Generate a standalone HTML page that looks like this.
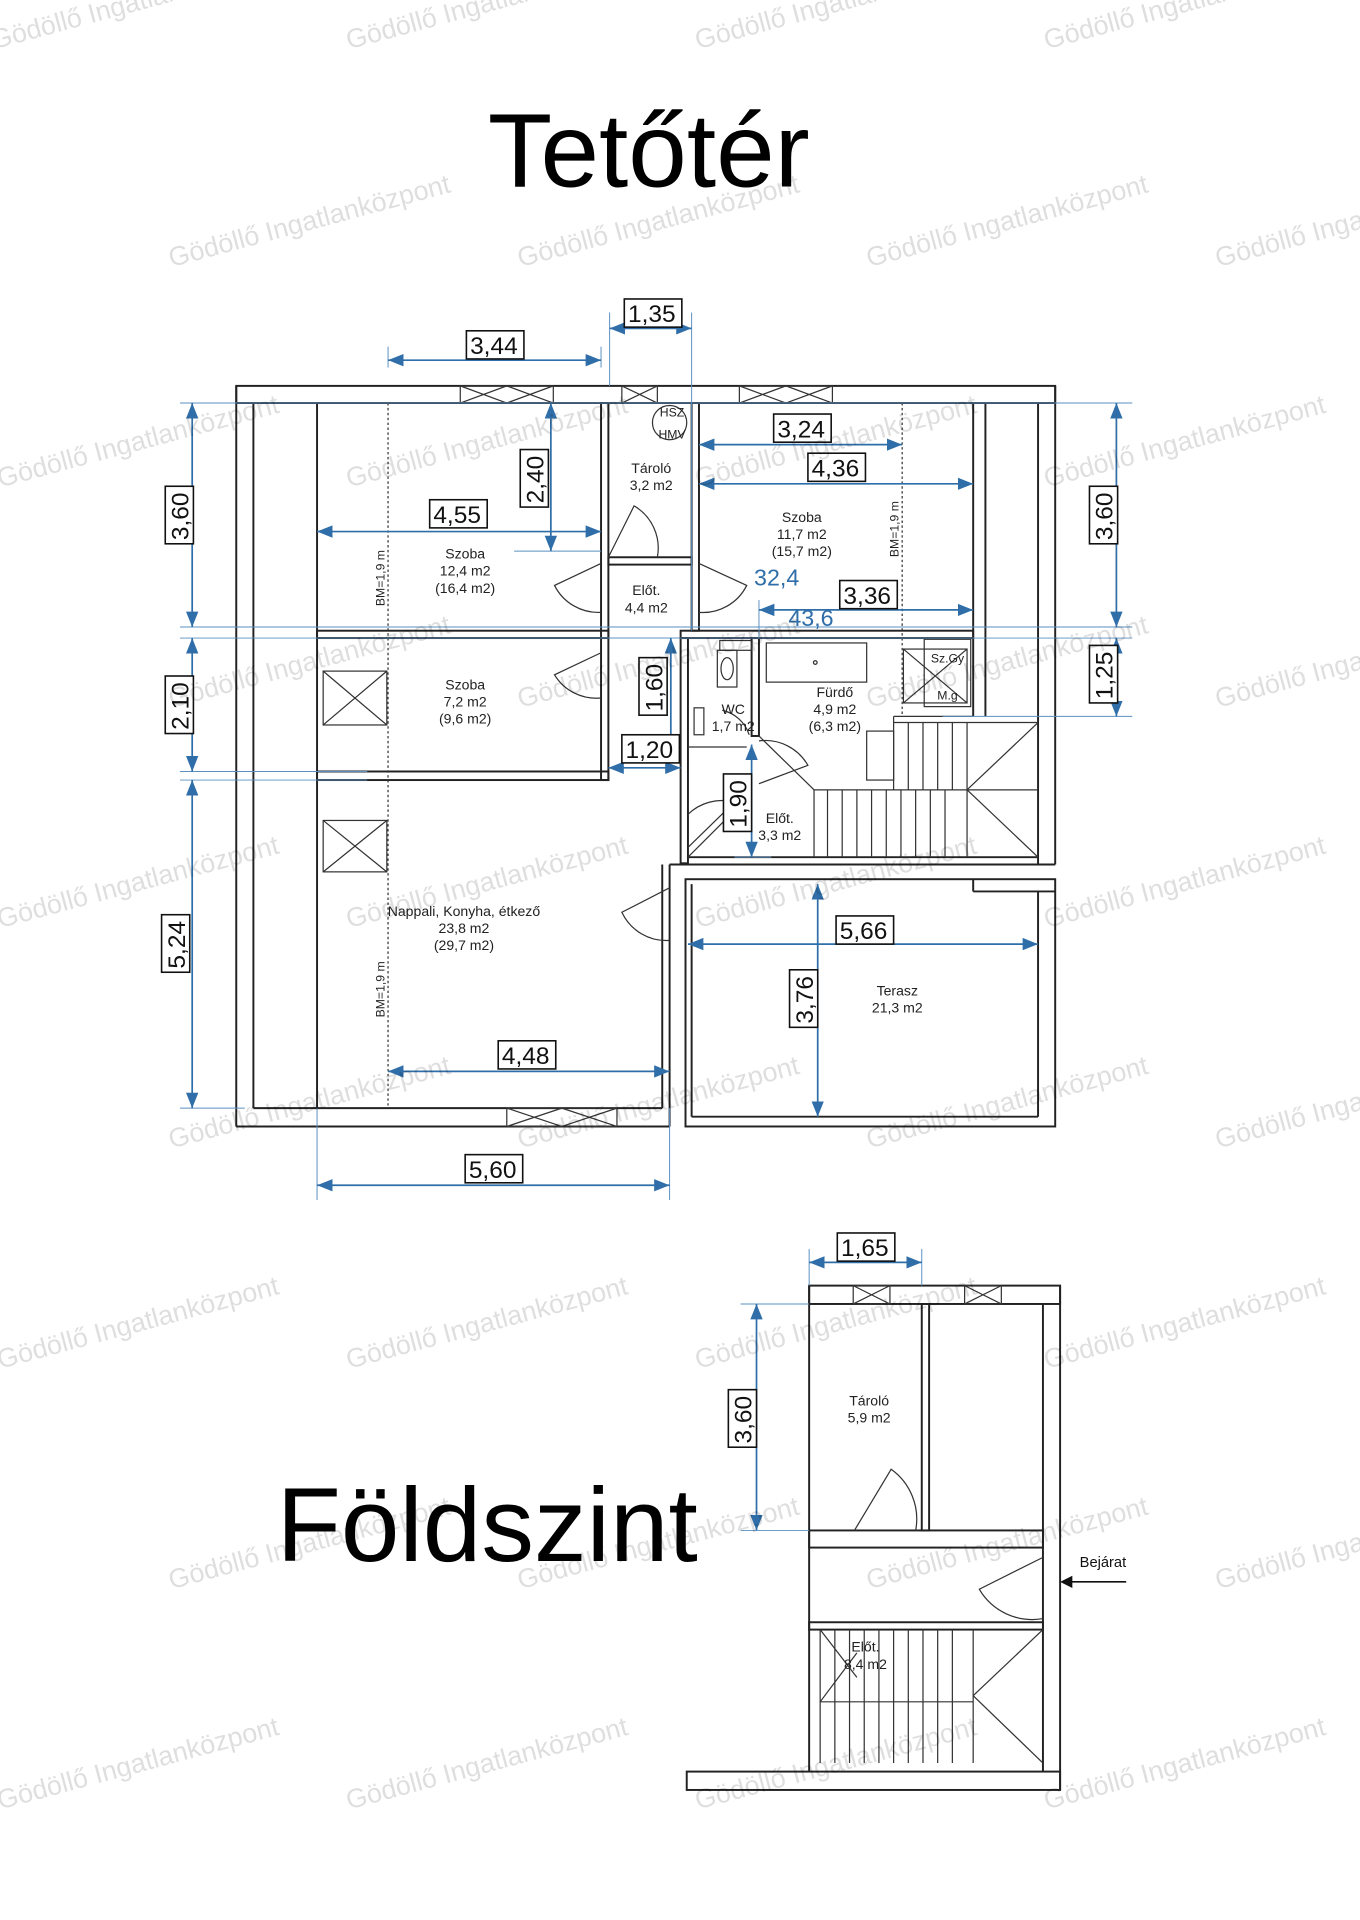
<!DOCTYPE html>
<html><head><meta charset="utf-8"><style>
html,body{margin:0;padding:0;background:#fff}
svg{display:block}
.w{fill:none;stroke:#222;stroke-width:1.6}
.t{fill:none;stroke:#333;stroke-width:1}
.d{stroke:#2f6ea8;stroke-width:1.4;fill:none}
.e{stroke:#5a8fc0;stroke-width:0.8;fill:none}
.lb{fill:#fff;stroke:#111;stroke-width:1.3}
.lt{font-family:"Liberation Sans",sans-serif;font-size:20px;fill:#111}
.rm{font-family:"Liberation Sans",sans-serif;font-size:11.5px;fill:#222;text-anchor:middle}
.wm{font-family:"Liberation Sans",sans-serif;font-size:22px;fill:#000;fill-opacity:0.13}
</style></head><body>
<svg width="1360" height="1920" viewBox="0 0 1111 1568" xmlns="http://www.w3.org/2000/svg">
<defs>
<marker id="a" viewBox="0 0 10 10" refX="10" refY="5" markerWidth="9" markerHeight="9" orient="auto-start-reverse"><path d="M0,1 L10,5 L0,9 z" fill="#2f6ea8"/></marker>
</defs>

<!-- titles -->
<text x="530" y="152" text-anchor="middle" font-family="Liberation Sans,sans-serif" font-size="86" fill="#000">Tetőtér</text>
<text x="398" y="1275" text-anchor="middle" font-family="Liberation Sans,sans-serif" font-size="86" fill="#000">Földszint</text>

<!-- UPPER PLAN walls -->
<g class="w">
<rect x="193" y="315" width="669" height="14"/>
<line x1="193" y1="315" x2="193" y2="920"/>
<line x1="207" y1="329" x2="207" y2="905"/>
<line x1="259" y1="329" x2="259" y2="905"/>
<line x1="193" y1="920" x2="547" y2="920"/>
<line x1="207" y1="905" x2="541" y2="905"/>
<line x1="862" y1="315" x2="862" y2="706"/>
<line x1="848" y1="329" x2="848" y2="706"/>
<line x1="795" y1="329" x2="795" y2="585"/>
<line x1="805" y1="329" x2="805" y2="585"/>
<!-- room divisions -->
<rect x="259" y="515" width="238" height="6"/>
<rect x="259" y="630" width="238" height="7"/>
<rect x="491" y="329" width="6" height="308"/>
<rect x="565" y="329" width="6" height="186"/>
<rect x="497" y="455" width="68" height="6"/>
<rect x="556" y="515" width="239" height="6"/>
<rect x="556" y="521" width="6" height="184"/>
<rect x="614" y="521" width="6" height="80"/>
<line x1="562" y1="700" x2="848" y2="700"/>
<line x1="547" y1="706" x2="862" y2="706"/>
<line x1="541" y1="706" x2="541" y2="905"/>
<line x1="547" y1="706" x2="547" y2="920"/>
<!-- terrace -->
<rect x="560" y="718" width="302" height="202"/>
<line x1="565" y1="912" x2="848" y2="912"/>
<line x1="565" y1="722" x2="565" y2="912"/>
<line x1="848" y1="728" x2="848" y2="912"/>
<line x1="795" y1="718" x2="795" y2="728"/><line x1="795" y1="728" x2="862" y2="728"/>
</g>
<!-- windows -->
<g class="t">
<rect x="376" y="315" width="76" height="14"/><path d="M376,315 L414,329 M414,315 L376,329 M414,315 L452,329 M452,315 L414,329"/>
<rect x="604" y="315" width="76" height="14"/><path d="M604,315 L642,329 M642,315 L604,329 M642,315 L680,329 M680,315 L642,329"/>
<rect x="508" y="315" width="29" height="14"/><path d="M508,315 L537,329 M537,315 L508,329"/>
<rect x="414" y="905" width="90" height="15"/><path d="M414,905 L459,920 M459,905 L414,920 M459,905 L504,920 M504,905 L459,920"/>
<!-- skylight boxes -->
<rect x="264" y="548" width="52" height="44"/><path d="M264,548 L316,592 M316,548 L264,592"/>
<rect x="264" y="670" width="52" height="42"/><path d="M264,670 L316,712 M316,670 L264,712"/>
<rect x="738" y="530" width="52" height="44"/><path d="M738,530 L790,574 M790,530 L738,574"/>
<rect x="755" y="522" width="38" height="55"/>
<!-- HSZ -->
<circle cx="547" cy="345" r="14"/>
<!-- bath -->
<rect x="626" y="525" width="82" height="32"/><circle cx="666" cy="541" r="1.5"/>
<rect x="588" y="523" width="26" height="8"/><rect x="586" y="531" width="16" height="30"/><ellipse cx="594" cy="546" rx="5" ry="9"/>
<rect x="567" y="578" width="8" height="22"/>
<rect x="708" y="597" width="22" height="40"/>
<line x1="730" y1="585" x2="795" y2="585"/><line x1="730" y1="585" x2="730" y2="645"/>
<line x1="620" y1="601" x2="665" y2="645"/>
<!-- stairs upper -->
<line x1="665" y1="645" x2="665" y2="700"/><line x1="790" y1="590" x2="790" y2="700"/>
<line x1="665" y1="645" x2="848" y2="645"/>
<path d="M676,645V700 M688,645V700 M700,645V700 M712,645V700 M724,645V700 M736,645V700 M748,645V700 M760,645V700 M772,645V700"/>
<path d="M742,590V645 M754,590V645 M766,590V645 M778,590V645 M730,590H848"/>
<path d="M790,645 L848,590 M790,645 L848,700"/>
<line x1="562" y1="610" x2="610" y2="610"/>
<line x1="562" y1="700" x2="610" y2="652"/>
<!-- doors -->
<path d="M497,455 L518,413 A40,40 0 0 1 537,455"/>
<path d="M491,460 L453,478 A40,40 0 0 0 491,500"/>
<path d="M491,533 L453,551 A40,40 0 0 0 491,570"/>
<path d="M571,460 L610,478 A40,40 0 0 1 571,500"/>
<path d="M547,725 L508,745 A40,40 0 0 0 547,768"/>
<path d="M562,665 A40,40 0 0 1 600,655 L562,692"/>
<path d="M620,605 A40,40 0 0 1 660,625 L620,640"/>
<path d="M590,580 A30,30 0 0 1 612,600"/>
<line x1="317" y1="329" x2="317" y2="905" stroke-dasharray="2,2"/>
<line x1="737" y1="329" x2="737" y2="585" stroke-dasharray="2,2"/>
</g>

<!-- LOWER PLAN -->
<g class="w">
<rect x="661" y="1050" width="205" height="15"/>
<line x1="661" y1="1050" x2="661" y2="1447"/>
<line x1="866" y1="1050" x2="866" y2="1462"/>
<line x1="852" y1="1065" x2="852" y2="1447"/>
<rect x="753" y="1065" width="6" height="185"/>
<rect x="661" y="1250" width="191" height="14"/>
<rect x="661" y="1325" width="191" height="6"/>
<rect x="561" y="1447" width="305" height="15"/>
</g>
<g class="t">
<rect x="697" y="1050" width="30" height="15"/><path d="M697,1050 L727,1065 M727,1050 L697,1065"/>
<rect x="788" y="1050" width="30" height="15"/><path d="M788,1050 L818,1065 M818,1050 L788,1065"/>
<path d="M698,1250 L728,1200 A50,50 0 0 1 748,1250"/>
<path d="M852,1272 L800,1298 A50,50 0 0 0 852,1322"/>
<path d="M670,1331V1440 M682,1331V1440 M694,1331V1390 M706,1331V1390 M718,1331V1390 M730,1331V1390 M742,1331V1390 M754,1331V1390 M766,1331V1390 M778,1331V1390 M795,1331V1440 M670,1390H795"/>
<path d="M694,1390V1440 M706,1390V1440 M718,1390V1440 M730,1390V1440 M742,1390V1440 M754,1390V1440 M766,1390V1440 M778,1390V1440"/>
<path d="M795,1385 L852,1331 M795,1385 L852,1440"/>
<path d="M670,1331 L700,1370 M670,1390 L700,1350"/>
</g>
<line x1="920" y1="1292" x2="868" y2="1292" stroke="#111" stroke-width="1.3"/>
<path d="M866,1292 L876,1287 L876,1297 z" fill="#111"/>
<text x="882" y="1280" font-family="Liberation Sans,sans-serif" font-size="12" fill="#111">Bejárat</text>

<!-- room labels -->
<g class="rm">
<text x="532" y="386">Tároló</text><text x="532" y="400">3,2 m2</text>
<text x="380" y="456">Szoba</text><text x="380" y="470">12,4 m2</text><text x="380" y="484">(16,4 m2)</text>
<text x="528" y="486">Előt.</text><text x="528" y="500">4,4 m2</text>
<text x="655" y="426">Szoba</text><text x="655" y="440">11,7 m2</text><text x="655" y="454">(15,7 m2)</text>
<text x="380" y="563">Szoba</text><text x="380" y="577">7,2 m2</text><text x="380" y="591">(9,6 m2)</text>
<text x="682" y="569">Fürdő</text><text x="682" y="583">4,9 m2</text><text x="682" y="597">(6,3 m2)</text>
<text x="599" y="583">WC</text><text x="599" y="597">1,7 m2</text>
<text x="637" y="672">Előt.</text><text x="637" y="686">3,3 m2</text>
<text x="379" y="748">Nappali, Konyha, étkező</text><text x="379" y="762">23,8 m2</text><text x="379" y="776">(29,7 m2)</text>
<text x="733" y="813">Terasz</text><text x="733" y="827">21,3 m2</text>
<text x="710" y="1148">Tároló</text><text x="710" y="1162">5,9 m2</text>
<text x="707" y="1349">Előt.</text><text x="707" y="1363">8,4 m2</text>
<text x="549" y="340" font-size="10">HSZ</text><text x="549" y="358" font-size="10">HMV</text>
<text x="774" y="541" font-size="10">Sz.Gy</text><text x="774" y="571" font-size="10">M.g</text>
<text transform="translate(314,472) rotate(-90)" font-size="10">BM=1,9 m</text>
<text transform="translate(314,808) rotate(-90)" font-size="10">BM=1,9 m</text>
<text transform="translate(734,432) rotate(-90)" font-size="10">BM=1,9 m</text>
</g>

<!-- extension lines -->
<g class="e">
<line x1="147" y1="329" x2="925" y2="329"/>
<line x1="147" y1="512" x2="925" y2="512"/>
<line x1="147" y1="521" x2="925" y2="521"/>
<line x1="147" y1="630" x2="300" y2="630"/>
<line x1="147" y1="637" x2="300" y2="637"/>
<line x1="147" y1="905" x2="200" y2="905"/>
<line x1="770" y1="585" x2="925" y2="585"/>
<line x1="317" y1="283" x2="317" y2="300"/>
<line x1="491" y1="283" x2="491" y2="300"/>
<line x1="498" y1="255" x2="498" y2="315"/>
<line x1="565" y1="255" x2="565" y2="515"/>
<line x1="259" y1="905" x2="259" y2="980"/>
<line x1="547" y1="905" x2="547" y2="980"/>
<line x1="661" y1="1020" x2="661" y2="1050"/>
<line x1="753" y1="1020" x2="753" y2="1050"/>
<line x1="605" y1="1065" x2="661" y2="1065"/>
<line x1="605" y1="1250" x2="661" y2="1250"/>
<line x1="420" y1="450" x2="491" y2="450"/>
<line x1="490" y1="521" x2="556" y2="521"/>
<line x1="600" y1="700" x2="630" y2="700"/>
<line x1="620" y1="490" x2="620" y2="521"/>
</g>
<!-- dimension lines -->
<g class="d">
<line x1="317" y1="294" x2="491" y2="294" marker-start="url(#a)" marker-end="url(#a)"/>
<line x1="498" y1="268" x2="565" y2="268" marker-start="url(#a)" marker-end="url(#a)"/>
<line x1="157" y1="329" x2="157" y2="512" marker-start="url(#a)" marker-end="url(#a)"/>
<line x1="450" y1="329" x2="450" y2="450" marker-start="url(#a)" marker-end="url(#a)"/>
<line x1="259" y1="434" x2="491" y2="434" marker-start="url(#a)" marker-end="url(#a)"/>
<line x1="571" y1="363" x2="737" y2="363" marker-start="url(#a)" marker-end="url(#a)"/>
<line x1="571" y1="395" x2="795" y2="395" marker-start="url(#a)" marker-end="url(#a)"/>
<line x1="912" y1="329" x2="912" y2="512" marker-start="url(#a)" marker-end="url(#a)"/>
<line x1="620" y1="498" x2="795" y2="498" marker-start="url(#a)" marker-end="url(#a)"/>
<line x1="912" y1="521" x2="912" y2="585" marker-start="url(#a)" marker-end="url(#a)"/>
<line x1="157" y1="521" x2="157" y2="630" marker-start="url(#a)" marker-end="url(#a)"/>
<line x1="548" y1="521" x2="548" y2="622" marker-start="url(#a)" marker-end="url(#a)"/>
<line x1="497" y1="627" x2="556" y2="627" marker-start="url(#a)" marker-end="url(#a)"/>
<line x1="614" y1="608" x2="614" y2="700" marker-start="url(#a)" marker-end="url(#a)"/>
<line x1="157" y1="637" x2="157" y2="905" marker-start="url(#a)" marker-end="url(#a)"/>
<line x1="562" y1="771" x2="848" y2="771" marker-start="url(#a)" marker-end="url(#a)"/>
<line x1="668" y1="722" x2="668" y2="912" marker-start="url(#a)" marker-end="url(#a)"/>
<line x1="317" y1="875" x2="547" y2="875" marker-start="url(#a)" marker-end="url(#a)"/>
<line x1="259" y1="968" x2="547" y2="968" marker-start="url(#a)" marker-end="url(#a)"/>
<line x1="661" y1="1031" x2="753" y2="1031" marker-start="url(#a)" marker-end="url(#a)"/>
<line x1="618" y1="1065" x2="618" y2="1250" marker-start="url(#a)" marker-end="url(#a)"/>
</g>
<text x="616" y="478" font-family="Liberation Sans,sans-serif" font-size="19" fill="#2f6ea8">32,4</text>
<text x="644" y="511" font-family="Liberation Sans,sans-serif" font-size="19" fill="#2f6ea8">43,6</text>

<!-- dimension labels -->
<g>
<rect class="lb" x="381" y="270" width="47" height="23"/><text class="lt" x="384" y="289">3,44</text>
<rect class="lb" x="510" y="244" width="47" height="23"/><text class="lt" x="513" y="263">1,35</text>
<rect class="lb" x="351" y="408" width="47" height="23"/><text class="lt" x="354" y="427">4,55</text>
<rect class="lb" x="632" y="338" width="47" height="23"/><text class="lt" x="635" y="357">3,24</text>
<rect class="lb" x="660" y="370" width="47" height="23"/><text class="lt" x="663" y="389">4,36</text>
<rect class="lb" x="686" y="474" width="47" height="23"/><text class="lt" x="689" y="493">3,36</text>
<rect class="lb" x="508" y="600" width="47" height="23"/><text class="lt" x="511" y="619">1,20</text>
<rect class="lb" x="683" y="748" width="47" height="23"/><text class="lt" x="686" y="767">5,66</text>
<rect class="lb" x="407" y="850" width="47" height="23"/><text class="lt" x="410" y="869">4,48</text>
<rect class="lb" x="380" y="943" width="47" height="23"/><text class="lt" x="383" y="962">5,60</text>
<rect class="lb" x="684" y="1007" width="47" height="23"/><text class="lt" x="687" y="1026">1,65</text>
<!-- vertical -->
<g transform="translate(146,420) rotate(-90)"><rect class="lb" x="-24" y="-11" width="47" height="23"/><text class="lt" x="-21" y="8">3,60</text></g>
<g transform="translate(436,390) rotate(-90)"><rect class="lb" x="-24" y="-11" width="47" height="23"/><text class="lt" x="-21" y="8">2,40</text></g>
<g transform="translate(901,420) rotate(-90)"><rect class="lb" x="-24" y="-11" width="47" height="23"/><text class="lt" x="-21" y="8">3,60</text></g>
<g transform="translate(901,550) rotate(-90)"><rect class="lb" x="-24" y="-11" width="47" height="23"/><text class="lt" x="-21" y="8">1,25</text></g>
<g transform="translate(146,575) rotate(-90)"><rect class="lb" x="-24" y="-11" width="47" height="23"/><text class="lt" x="-21" y="8">2,10</text></g>
<g transform="translate(533,560) rotate(-90)"><rect class="lb" x="-24" y="-11" width="47" height="23"/><text class="lt" x="-21" y="8">1,60</text></g>
<g transform="translate(602,655) rotate(-90)"><rect class="lb" x="-24" y="-11" width="47" height="23"/><text class="lt" x="-21" y="8">1,90</text></g>
<g transform="translate(143,770) rotate(-90)"><rect class="lb" x="-24" y="-11" width="47" height="23"/><text class="lt" x="-21" y="8">5,24</text></g>
<g transform="translate(656,815) rotate(-90)"><rect class="lb" x="-24" y="-11" width="47" height="23"/><text class="lt" x="-21" y="8">3,76</text></g>
<g transform="translate(606,1158) rotate(-90)"><rect class="lb" x="-24" y="-11" width="47" height="23"/><text class="lt" x="-21" y="8">3,60</text></g>
</g>

<!-- watermarks -->
<g class="wm">
<text transform="translate(-5,40) rotate(-15)">Gödöllő Ingatlanközpont</text>
<text transform="translate(285,40) rotate(-15)">Gödöllő Ingatlanközpont</text>
<text transform="translate(570,40) rotate(-15)">Gödöllő Ingatlanközpont</text>
<text transform="translate(855,40) rotate(-15)">Gödöllő Ingatlanközpont</text>
<text transform="translate(140,218) rotate(-15)">Gödöllő Ingatlanközpont</text>
<text transform="translate(425,218) rotate(-15)">Gödöllő Ingatlanközpont</text>
<text transform="translate(710,218) rotate(-15)">Gödöllő Ingatlanközpont</text>
<text transform="translate(995,218) rotate(-15)">Gödöllő Ingatlanközpont</text>
<text transform="translate(0,398) rotate(-15)">Gödöllő Ingatlanközpont</text>
<text transform="translate(285,398) rotate(-15)">Gödöllő Ingatlanközpont</text>
<text transform="translate(570,398) rotate(-15)">Gödöllő Ingatlanközpont</text>
<text transform="translate(855,398) rotate(-15)">Gödöllő Ingatlanközpont</text>
<text transform="translate(140,578) rotate(-15)">Gödöllő Ingatlanközpont</text>
<text transform="translate(425,578) rotate(-15)">Gödöllő Ingatlanközpont</text>
<text transform="translate(710,578) rotate(-15)">Gödöllő Ingatlanközpont</text>
<text transform="translate(995,578) rotate(-15)">Gödöllő Ingatlanközpont</text>
<text transform="translate(0,758) rotate(-15)">Gödöllő Ingatlanközpont</text>
<text transform="translate(285,758) rotate(-15)">Gödöllő Ingatlanközpont</text>
<text transform="translate(570,758) rotate(-15)">Gödöllő Ingatlanközpont</text>
<text transform="translate(855,758) rotate(-15)">Gödöllő Ingatlanközpont</text>
<text transform="translate(140,938) rotate(-15)">Gödöllő Ingatlanközpont</text>
<text transform="translate(425,938) rotate(-15)">Gödöllő Ingatlanközpont</text>
<text transform="translate(710,938) rotate(-15)">Gödöllő Ingatlanközpont</text>
<text transform="translate(995,938) rotate(-15)">Gödöllő Ingatlanközpont</text>
<text transform="translate(0,1118) rotate(-15)">Gödöllő Ingatlanközpont</text>
<text transform="translate(285,1118) rotate(-15)">Gödöllő Ingatlanközpont</text>
<text transform="translate(570,1118) rotate(-15)">Gödöllő Ingatlanközpont</text>
<text transform="translate(855,1118) rotate(-15)">Gödöllő Ingatlanközpont</text>
<text transform="translate(140,1298) rotate(-15)">Gödöllő Ingatlanközpont</text>
<text transform="translate(425,1298) rotate(-15)">Gödöllő Ingatlanközpont</text>
<text transform="translate(710,1298) rotate(-15)">Gödöllő Ingatlanközpont</text>
<text transform="translate(995,1298) rotate(-15)">Gödöllő Ingatlanközpont</text>
<text transform="translate(0,1478) rotate(-15)">Gödöllő Ingatlanközpont</text>
<text transform="translate(285,1478) rotate(-15)">Gödöllő Ingatlanközpont</text>
<text transform="translate(570,1478) rotate(-15)">Gödöllő Ingatlanközpont</text>
<text transform="translate(855,1478) rotate(-15)">Gödöllő Ingatlanközpont</text>
</g>
</svg>
</body></html>
